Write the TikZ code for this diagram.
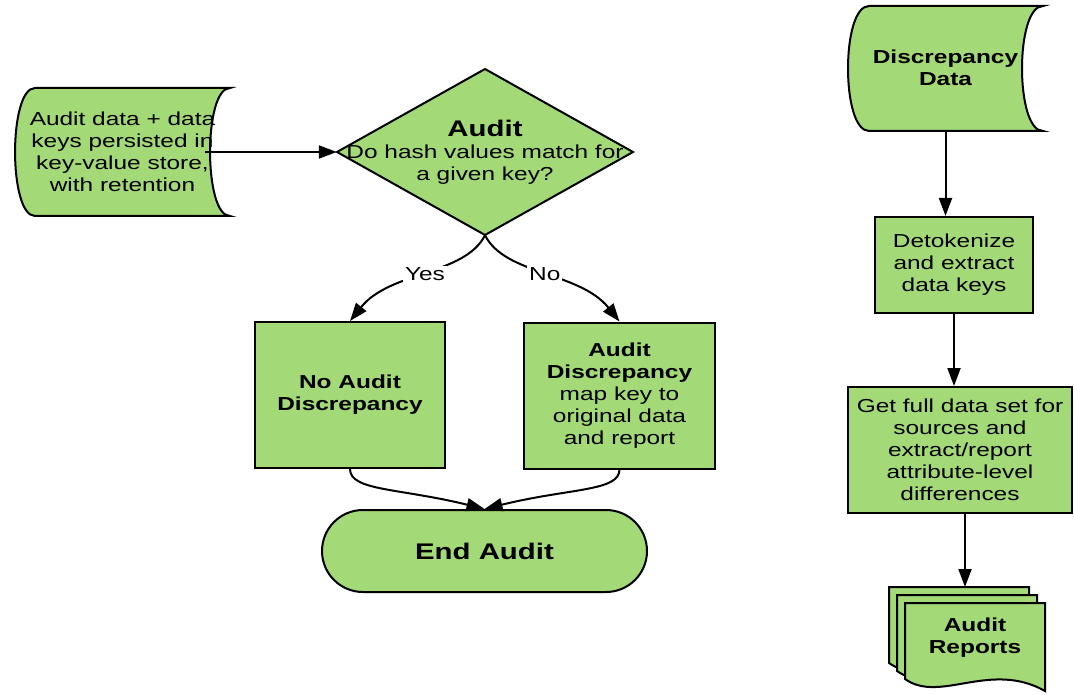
\documentclass[tikz,border=0pt]{standalone}
\usepackage{fontspec}
\setmainfont{Liberation Sans}[FakeStretch=1.3]
\usetikzlibrary{arrows.meta}

\definecolor{leafgreen}{RGB}{163,217,119}

\begin{document}
\begin{tikzpicture}[
    x=1pt,
    y=-1pt,
    every node/.style={font=\fontsize{18.8}{22}\selectfont, align=center, inner sep=0pt},
    box/.style={draw=black, fill=leafgreen, line width=2pt},
    heading/.style={font=\fontsize{18.8}{22}\selectfont\bfseries},
    bigbold/.style={font=\fontsize{22.6}{26}\selectfont\bfseries},
    flow/.style={-{Triangle[length=18pt,width=13pt]}, line width=2pt},
    tag/.style={fill=white, inner sep=2pt}
  ]
    \useasboundingbox (0,0) rectangle (1074,695);

    \draw[box] (35,88) -- (230,88) .. controls (203.4,88) and (203.4,216) .. (230,216)
      -- (35,216) .. controls (8.4,216) and (8.4,88) .. (35,88) -- cycle;
    \draw[box] (869,6) -- (1043,6) .. controls (1015,6) and (1015,131) .. (1043,131)
      -- (869,131) .. controls (841,131) and (841,6) .. (869,6) -- cycle;
    \draw[box] (337,152) -- (485,69) -- (633,152) -- (485,235) -- cycle;

    \foreach \d in {16,8,0} {
      \draw[box] (905-\d,603-\d) -- (1045-\d,603-\d) -- (1045-\d,691-\d)
        .. controls (990-\d,660-\d) and (940-\d,704-\d) .. (905-\d,679-\d) -- cycle;
    }

    \node[minimum width=215pt, minimum height=128pt] (src) at (122.5,152)
      {Audit data + data\\keys persisted in\\key-value store,\\with retention};
    \node[minimum width=296pt, minimum height=166pt] (audit) at (485,152)
      {{\bfseries\fontsize{22.6}{24}\selectfont Audit}\\Do hash values match for\\a given key?};

    \node[box, heading, minimum width=190pt, minimum height=146pt] (noaud) at (350,395)
      {No Audit\\Discrepancy};
    \node[box, minimum width=191pt, minimum height=146pt] (audaud) at (619.5,395.5)
      {{\bfseries Audit}\\{\bfseries Discrepancy}\\map key to\\original data\\and report};
    \node[box, bigbold, rounded corners=41pt, minimum width=325pt, minimum height=82pt] (endaud)
      at (484.5,551) {End Audit};

    \node[heading, minimum width=195pt, minimum height=126pt] (disc) at (945.5,68)
      {Discrepancy\\Data};
    \node[box, minimum width=158pt, minimum height=96pt] (detok) at (954,265)
      {Detokenize\\and extract\\data keys};
    \node[box, minimum width=224pt, minimum height=126pt] (full) at (960,450)
      {Get full data set for\\sources and\\extract/report\\attribute-level\\differences};
    \node[heading] (reports) at (975,638) {Audit\\Reports};
    \coordinate (stacktop) at (965,587);

    \draw[flow] ([xshift=-25pt]src.east) -- (audit.west);
    \draw[flow] (audit.south) .. controls +(-20,40) and +(40,-50) .. (noaud.north)
      node[tag, pos=0.5] {Yes};
    \draw[flow] (audit.south) .. controls +(20,40) and +(-40,-50) .. (audaud.north)
      node[tag, pos=0.5] {No};
    \draw[flow] (noaud.south) .. controls +(0,22) and +(-85,-21) .. (endaud.north);
    \draw[flow] (audaud.south) .. controls +(0,22) and +(85,-21) .. (endaud.north);

    \draw[flow] (disc.south) -- (disc.south |- detok.north);
    \draw[flow] (detok.south) -- (detok.south |- full.north);
    \draw[flow] (full.south -| stacktop) -- (stacktop);
  \end{tikzpicture}
\end{document}
